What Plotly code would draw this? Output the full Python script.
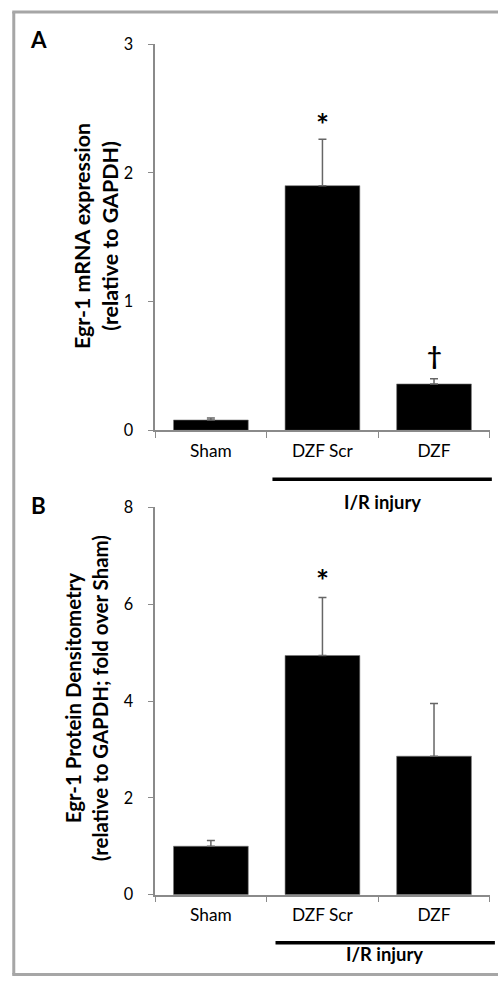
import plotly.graph_objects as go

W, H = 498, 985

categories = ["Sham", "DZF Scr", "DZF"]
mrna_mean = [0.08, 1.90, 0.36]
mrna_err = [0.015, 0.36, 0.04]
protein_mean = [1.0, 4.94, 2.86]
protein_err = [0.12, 1.2, 1.09]
mrna_ticks = [0, 1, 2, 3]
protein_ticks = [0, 2, 4, 6, 8]

FONT = "Lato"
AXC = "#8a8a8a"

# the photographed page shows the figure slightly reduced and offset;
# target positions below are the pixel positions seen in the reference.
S, OX, OY = 0.98, 2.0, 8.0

def px(x):
    return min(max((x - OX) / S / W, 0), 1)

def py(y):
    return min(max(1 - (y - OY) / S / H, 0), 1)

def fs(v):
    return round(v / S, 1)

fig = go.Figure()

err_style = dict(type="data", symmetric=False, color="#666666", thickness=1.5, width=4)

fig.add_trace(go.Bar(
    x=categories, y=mrna_mean, xaxis="x", yaxis="y",
    marker=dict(color="black", line=dict(color="#777777", width=0.6)),
    error_y=dict(array=mrna_err, arrayminus=[0] * len(mrna_err), **err_style),
    showlegend=False,
))
fig.add_trace(go.Bar(
    x=categories, y=protein_mean, xaxis="x2", yaxis="y2",
    marker=dict(color="black", line=dict(color="#777777", width=0.6)),
    error_y=dict(array=protein_err, arrayminus=[0] * len(protein_err), **err_style),
    showlegend=False,
))

xdom = [px(154), px(482)]
common_x = dict(
    domain=xdom, showline=True, linecolor=AXC, linewidth=1.5,
    ticks="outside", tickson="boundaries", ticklen=6, tickcolor=AXC, tickwidth=1.2,
    tickfont=dict(family=FONT, size=fs(17), color="black"), showgrid=False,
    ticklabelstandoff=4, fixedrange=True,
)
common_y = dict(
    showline=True, linecolor=AXC, linewidth=1.5,
    ticks="outside", ticklen=5, tickcolor=AXC, tickwidth=1.2,
    tickfont=dict(family=FONT, size=fs(16), color="black"), showgrid=False,
    zeroline=False, ticklabelstandoff=12, fixedrange=True,
)

fig.update_layout(
    width=W, height=H, margin=dict(l=0, r=0, t=0, b=0),
    paper_bgcolor="white", plot_bgcolor="white",
    bargap=0.33,
    xaxis=dict(anchor="y", **common_x),
    yaxis=dict(anchor="x", domain=[py(428), py(42)], range=[0, 3],
               tickvals=mrna_ticks, **common_y),
    xaxis2=dict(anchor="y2", **common_x),
    yaxis2=dict(anchor="x2", domain=[py(892), py(505)], range=[0, 8],
                tickvals=protein_ticks, **common_y),
)

# frame
frame = dict(color="#a6a6a6", width=3)
top_y = py(10)
bot_y = max(py(983), 1.5 / H)
fig.add_shape(type="line", xref="paper", yref="paper", x0=px(15.5), x1=px(15.5), y0=top_y, y1=bot_y, line=frame)
fig.add_shape(type="line", xref="paper", yref="paper", x0=px(14), x1=1, y0=top_y, y1=top_y, line=frame)
fig.add_shape(type="line", xref="paper", yref="paper", x0=px(14), x1=1, y0=bot_y, y1=bot_y, line=frame)

# I/R injury lines
fig.add_shape(type="line", xref="paper", yref="paper", x0=px(269), x1=px(484), y0=py(477), y1=py(477), line=dict(color="black", width=3.5))
fig.add_shape(type="line", xref="paper", yref="paper", x0=px(272), x1=px(487), y0=py(940), y1=py(940), line=dict(color="black", width=3.5))

ann = []
bold = dict(family=FONT, color="black")
C = dict(xanchor="center", yanchor="middle", showarrow=False)
ann.append(dict(text="<b>A</b>", x=px(40), y=py(37), xref="paper", yref="paper", font=dict(size=fs(22), **bold), **C))
ann.append(dict(text="<b>B</b>", x=px(40), y=py(503), xref="paper", yref="paper", font=dict(size=fs(22), **bold), **C))
ann.append(dict(text="<b>I/R injury</b>", x=px(377), y=py(500), xref="paper", yref="paper", font=dict(size=fs(18), **bold), **C))
ann.append(dict(text="<b>I/R injury</b>", x=px(379), y=py(951), xref="paper", yref="paper", font=dict(size=fs(18), **bold), **C))
ann.append(dict(text="<b>Egr-1 mRNA expression<br>(relative to GAPDH)</b>", x=px(96), y=py(234),
                xref="paper", yref="paper", textangle=-90, font=dict(size=fs(21), **bold), **C))
ann.append(dict(text="<b>Egr-1 Protein Densitometry<br>(relative to GAPDH; fold over Sham)</b>", x=px(87), y=py(696),
                xref="paper", yref="paper", textangle=-90, font=dict(size=fs(20), **bold), **C))
ann.append(dict(text="<b>*</b>", x=categories[1], y=mrna_mean[1] + mrna_err[1], xref="x", yref="y",
                yshift=fs(15), font=dict(size=fs(30), **bold), **C))
ann.append(dict(text="<b>†</b>", x=categories[2], y=mrna_mean[2] + mrna_err[2], xref="x", yref="y",
                yshift=fs(23), font=dict(size=fs(25), **bold), **C))
ann.append(dict(text="<b>*</b>", x=categories[1], y=protein_mean[1] + protein_err[1], xref="x2", yref="y2",
                yshift=fs(17), font=dict(size=fs(30), **bold), **C))
fig.update_layout(annotations=ann)

post = (
    "document.documentElement.style.margin='0';"
    "document.documentElement.style.padding='0';"
    "document.documentElement.style.overflow='hidden';"
    "document.body.style.margin='0';"
    "document.body.style.padding='0';"
    "document.body.style.overflow='hidden';"
    "var gd=document.getElementById('{plot_id}');"
    "gd.style.position='fixed';gd.style.left='0px';gd.style.top='0px';"
)

fig.write_html("out.html", config={"displayModeBar": False}, post_script=post)
